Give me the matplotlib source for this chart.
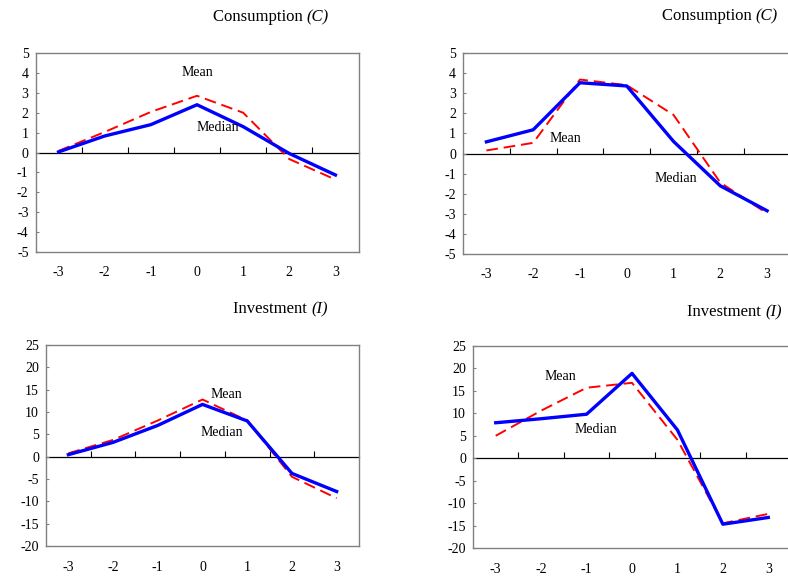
import matplotlib.pyplot as plt

plt.rcParams['font.family'] = ['Liberation Serif', 'DejaVu Serif']
plt.rcParams['axes.unicode_minus'] = False

# quarters around the event
periods = [-3, -2, -1, 0, 1, 2, 3]
period_labels = ['-3', '-2', '-1', '0', '1', '2', '3']

# Consumption (C), left panel
cons_left_median = [0.03, 0.83, 1.4, 2.4, 1.3, -0.05, -1.13]
cons_left_mean = [0.08, 1.03, 2.04, 2.85, 2.0, -0.33, -1.36]

# Consumption (C), right panel
cons_right_median = [0.58, 1.18, 3.52, 3.36, 0.6, -1.61, -2.85]
cons_right_mean = [0.15, 0.53, 3.68, 3.4, 1.92, -1.45, -2.98]

# Investment (I), left panel
inv_left_median = [0.45, 3.2, 7.0, 11.7, 8.0, -3.75, -7.8]
inv_left_mean = [0.75, 3.75, 8.1, 12.8, 8.1, -4.5, -9.3]

# Investment (I), right panel
inv_right_median = [7.9, 8.8, 9.8, 18.9, 6.3, -14.7, -13.2]
inv_right_mean = [5.0, 10.6, 15.7, 16.8, 4.1, -14.5, -12.4]

W, H = 788, 577
fig = plt.figure(figsize=(W / 100, H / 100), dpi=100)


def make_axes(left, right, top, bottom):
    return fig.add_axes([left / W, 1 - bottom / H, (right - left) / W, (bottom - top) / H])


def draw_panel(ax, median, mean, ylim, step, mean_pos, median_pos, tick_pad):
    ax.plot(periods, mean, color='#ff0000', lw=1.4, ls=(0, (6, 3)), zorder=3)
    ax.plot(periods, median, color='#0000ff', lw=2.4, zorder=4)
    ax.set_xlim(periods[0] - 0.5, periods[-1] + 0.5)
    ax.set_ylim(*ylim)
    ax.set_yticks(range(ylim[0], ylim[1] + 1, step))
    ax.set_xticks(periods)
    ax.set_xticklabels(period_labels)
    ax.tick_params(axis='y', direction='in', length=2.5, width=0.8, color='#808080',
                   pad=5, labelsize=10)
    ax.tick_params(axis='x', length=0, pad=tick_pad, labelsize=10)
    for s in ax.spines.values():
        s.set_color('#808080')
        s.set_linewidth(1.0)
    # horizontal axis crossing at zero, tick marks between categories
    zero_frac = (0 - ylim[0]) / (ylim[1] - ylim[0])
    sec = ax.secondary_xaxis(zero_frac)
    sec.set_alignment('bottom')
    sec.set_xticks([p + 0.5 for p in periods[:-1]])
    sec.set_xticklabels([])
    sec.tick_params(direction='in', length=4, width=0.8, color='black')
    for s in sec.spines.values():
        s.set_color('black')
        s.set_linewidth(0.9)
    ax.text(*mean_pos, 'Mean', fontsize=10, ha='center', va='center', zorder=5)
    ax.text(*median_pos, 'Median', fontsize=10, ha='center', va='center', zorder=5)


def title(x, y, main, ital):
    t = fig.text(x / W, 1 - y / H, main + ' ', fontsize=12, ha='left', va='baseline')
    fig.canvas.draw()
    x1 = t.get_window_extent().x1
    fig.text(x1 / W, 1 - y / H, ital, fontsize=12, style='italic', va='baseline')


ax1 = make_axes(35.5, 358.5, 53, 252)
draw_panel(ax1, cons_left_median, cons_left_mean, (-5, 5), 1,
           (0.0, 4.0), (0.45, 1.25), 10)
ax2 = make_axes(463, 790.5, 53, 254)
draw_panel(ax2, cons_right_median, cons_right_mean, (-5, 5), 1,
           (-1.32, 0.75), (1.06, -1.25), 10)
ax3 = make_axes(46, 359, 345, 546)
draw_panel(ax3, inv_left_median, inv_left_mean, (-20, 25), 5,
           (0.54, 14.0), (0.43, 5.5), 11)
ax4 = make_axes(473, 791, 346, 548)
draw_panel(ax4, inv_right_median, inv_right_mean, (-20, 25), 5,
           (-1.57, 18.2), (-0.8, 6.3), 11)

title(213, 21, 'Consumption', '(C)')
title(662, 20, 'Consumption', '(C)')
title(233, 313, 'Investment', '(I)')
title(687, 316, 'Investment', '(I)')

fig.savefig('out.png', dpi=100)
